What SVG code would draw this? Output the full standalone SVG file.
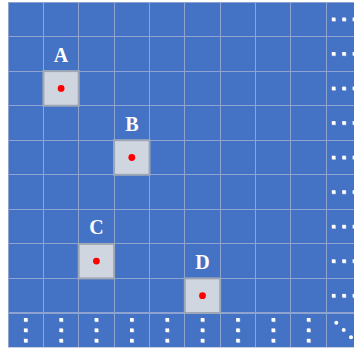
<svg xmlns="http://www.w3.org/2000/svg" xmlns:xlink="http://www.w3.org/1999/xlink" width="354" height="352" viewBox="0 0 354 352">
<style>
.grid line{stroke:#8ea3d0;stroke-width:1}
.cell{fill:#d0d6df;stroke:#9ea7b6;stroke-width:2}
.lbl{font-family:"Liberation Serif","Times New Roman",serif;font-weight:bold;font-size:20px;fill:#ffffff;text-anchor:middle}
.pt{fill:#ff0000}
</style>
<defs>
<g id="dot"><rect x="-1.2" y="-1.2" width="3.6" height="3.6" fill="#9aa8c8"/><rect x="-1.8" y="-1.8" width="3.6" height="3.6" fill="#ffffff"/></g>
</defs>
<rect width="354" height="352" fill="#ffffff"/>
<rect x="8" y="2" width="346" height="345.5" fill="#4472c4"/>
<g class="grid">
<line x1="8.5" y1="2" x2="8.5" y2="348"/>
<line x1="43.5" y1="2" x2="43.5" y2="348"/>
<line x1="78.5" y1="2" x2="78.5" y2="348"/>
<line x1="114.5" y1="2" x2="114.5" y2="348"/>
<line x1="149.5" y1="2" x2="149.5" y2="348"/>
<line x1="184.5" y1="2" x2="184.5" y2="348"/>
<line x1="220.5" y1="2" x2="220.5" y2="348"/>
<line x1="255.5" y1="2" x2="255.5" y2="348"/>
<line x1="290.5" y1="2" x2="290.5" y2="348"/>
<line x1="326.5" y1="2" x2="326.5" y2="348"/>
<line x1="8" y1="2.5" x2="354" y2="2.5"/>
<line x1="8" y1="36.5" x2="354" y2="36.5"/>
<line x1="8" y1="71.5" x2="354" y2="71.5"/>
<line x1="8" y1="105.5" x2="354" y2="105.5"/>
<line x1="8" y1="140.5" x2="354" y2="140.5"/>
<line x1="8" y1="174.5" x2="354" y2="174.5"/>
<line x1="8" y1="209.5" x2="354" y2="209.5"/>
<line x1="8" y1="243.5" x2="354" y2="243.5"/>
<line x1="8" y1="278.5" x2="354" y2="278.5"/>
<line x1="8" y1="313" x2="354" y2="313" style="stroke-width:2"/>
<line x1="8" y1="347.5" x2="354" y2="347.5" style="stroke:#c9d1e2"/>
</g>
<g id="ellipsis-right">
<use xlink:href="#dot" x="333.6" y="19.3"/><use xlink:href="#dot" x="344" y="19.3"/><use xlink:href="#dot" x="354.4" y="19.3"/>
<use xlink:href="#dot" x="333.6" y="53.8"/><use xlink:href="#dot" x="344" y="53.8"/><use xlink:href="#dot" x="354.4" y="53.8"/>
<use xlink:href="#dot" x="333.6" y="88.4"/><use xlink:href="#dot" x="344" y="88.4"/><use xlink:href="#dot" x="354.4" y="88.4"/>
<use xlink:href="#dot" x="333.6" y="122.9"/><use xlink:href="#dot" x="344" y="122.9"/><use xlink:href="#dot" x="354.4" y="122.9"/>
<use xlink:href="#dot" x="333.6" y="157.5"/><use xlink:href="#dot" x="344" y="157.5"/><use xlink:href="#dot" x="354.4" y="157.5"/>
<use xlink:href="#dot" x="333.6" y="192"/><use xlink:href="#dot" x="344" y="192"/><use xlink:href="#dot" x="354.4" y="192"/>
<use xlink:href="#dot" x="333.6" y="226.6"/><use xlink:href="#dot" x="344" y="226.6"/><use xlink:href="#dot" x="354.4" y="226.6"/>
<use xlink:href="#dot" x="333.6" y="261.1"/><use xlink:href="#dot" x="344" y="261.1"/><use xlink:href="#dot" x="354.4" y="261.1"/>
<use xlink:href="#dot" x="333.6" y="295.7"/><use xlink:href="#dot" x="344" y="295.7"/><use xlink:href="#dot" x="354.4" y="295.7"/>
</g>
<g id="ellipsis-bottom">
<use xlink:href="#dot" x="25.7" y="319.8"/><use xlink:href="#dot" x="25.7" y="330.2"/><use xlink:href="#dot" x="25.7" y="340.6"/>
<use xlink:href="#dot" x="61.1" y="319.8"/><use xlink:href="#dot" x="61.1" y="330.2"/><use xlink:href="#dot" x="61.1" y="340.6"/>
<use xlink:href="#dot" x="96.4" y="319.8"/><use xlink:href="#dot" x="96.4" y="330.2"/><use xlink:href="#dot" x="96.4" y="340.6"/>
<use xlink:href="#dot" x="131.8" y="319.8"/><use xlink:href="#dot" x="131.8" y="330.2"/><use xlink:href="#dot" x="131.8" y="340.6"/>
<use xlink:href="#dot" x="167.2" y="319.8"/><use xlink:href="#dot" x="167.2" y="330.2"/><use xlink:href="#dot" x="167.2" y="340.6"/>
<use xlink:href="#dot" x="202.5" y="319.8"/><use xlink:href="#dot" x="202.5" y="330.2"/><use xlink:href="#dot" x="202.5" y="340.6"/>
<use xlink:href="#dot" x="237.9" y="319.8"/><use xlink:href="#dot" x="237.9" y="330.2"/><use xlink:href="#dot" x="237.9" y="340.6"/>
<use xlink:href="#dot" x="273.3" y="319.8"/><use xlink:href="#dot" x="273.3" y="330.2"/><use xlink:href="#dot" x="273.3" y="340.6"/>
<use xlink:href="#dot" x="308.6" y="319.8"/><use xlink:href="#dot" x="308.6" y="330.2"/><use xlink:href="#dot" x="308.6" y="340.6"/>
</g>
<g id="ellipsis-diagonal" fill="#ffffff">
<circle cx="336.3" cy="322.7" r="2"/><circle cx="343.7" cy="330" r="2"/><circle cx="351" cy="337.3" r="2"/>
</g>
<g id="node-A">
<rect class="cell" x="43.4" y="71.1" width="35.3" height="34.6"/>
<circle class="pt" cx="61.1" cy="88.4" r="3.4"/>
<text class="lbl" x="61.1" y="61.5">A</text>
</g>
<g id="node-B">
<rect class="cell" x="114.1" y="140.2" width="35.4" height="34.6"/>
<circle class="pt" cx="131.8" cy="157.5" r="3.4"/>
<text class="lbl" x="131.8" y="130.5">B</text>
</g>
<g id="node-C">
<rect class="cell" x="78.7" y="243.9" width="35.4" height="34.5"/>
<circle class="pt" cx="96.4" cy="261.1" r="3.4"/>
<text class="lbl" x="96.4" y="234">C</text>
</g>
<g id="node-D">
<rect class="cell" x="184.8" y="278.4" width="35.4" height="34.6"/>
<circle class="pt" cx="202.5" cy="295.7" r="3.4"/>
<text class="lbl" x="202.5" y="268.8">D</text>
</g>
</svg>
